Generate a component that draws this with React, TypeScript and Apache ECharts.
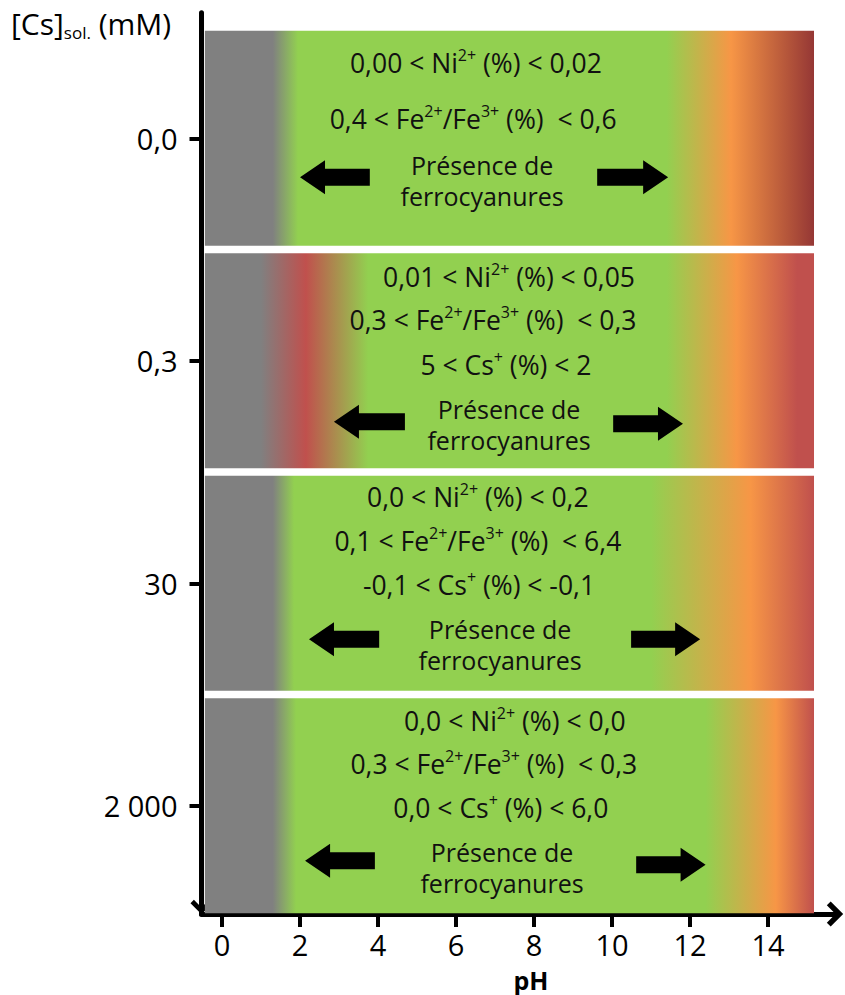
import React, { useEffect, useRef } from "react";
import * as echarts from "echarts";

// ---------- data ----------
const rowLabels = ["0,0", "0,3", "30", "2 000"];
const rowValues = [0, 1, 2, 3];
const xTickValues = [0, 2, 4, 6, 8, 10, 12, 14];
const niRanges = [["0,00", "0,02"], ["0,01", "0,05"], ["0,0", "0,2"], ["0,0", "0,0"]];
const feRanges = [["0,4", "0,6"], ["0,3", "0,3"], ["0,1", "6,4"], ["0,3", "0,3"]];
const csRanges: (string[] | null)[] = [null, ["5", "2"], ["-0,1", "-0,1"], ["0,0", "6,0"]];
const presenceText = "Présence de\nferrocyanures";
const xTitle = "pH";

// colour zones along pH for each row: [pH, colour]
const GRAY = "#808080", GREEN = "#92d050", ORANGE = "#f79646", RED = "#c0504d", DARKRED = "#953735";
const zoneStops: [number, string][][] = [
  [[1.3, GRAY], [1.95, GREEN], [11.4, GREEN], [13.05, ORANGE], [15.18, DARKRED]],
  [[1.0, GRAY], [2.15, RED], [3.75, GREEN], [11.4, GREEN], [13.2, ORANGE], [14.75, RED]],
  [[1.3, GRAY], [1.85, GREEN], [11.0, GREEN], [13.55, ORANGE], [15.18, RED]],
  [[1.3, GRAY], [1.9, GREEN], [12.4, GREEN], [14.2, ORANGE], [15.18, RED]],
];
const bandStartPH = -0.44;
const bandEndPH = 15.18;
// arrows [tail pH, tip pH]
const leftArrows = [[3.79, 2.0], [4.69, 2.87], [4.03, 2.23], [3.92, 2.13]];
const rightArrows = [[9.62, 11.44], [10.03, 11.82], [10.49, 12.26], [10.62, 12.4]];

// ---------- layout (pixel offsets from row centre, text centres in pH) ----------
const textX = [
  { ni: 6.51, fe: 6.44, cs: 0, pres: 6.67 },
  { ni: 7.36, fe: 6.95, cs: 7.28, pres: 7.36 },
  { ni: 6.56, fe: 6.56, cs: 6.59, pres: 7.13 },
  { ni: 7.51, fe: 6.97, cs: 7.15, pres: 7.18 },
];
const textDY = [
  { ni: -75, fe: -19, cs: 0, pres: 42, la: 39, ra: 39 },
  { ni: -84, fe: -41, cs: 4, pres: 64, la: 61, ra: 63 },
  { ni: -86, fe: -42, cs: 2, pres: 61, la: 56, ra: 56 },
  { ni: -85, fe: -42, cs: 2, pres: 62, la: 55, ra: 59 },
];
const BAND_HEIGHT = 0.966; // in row units

const FONT = "'Open Sans', 'Noto Sans', sans-serif";
const CHEVRON = "path://M13,0 L26,13 L22,17 L13,8 L4,17 L0,13 Z";

const supRich = {
  s: { fontSize: 16, lineHeight: 21, verticalAlign: "top", fill: "#111", fontFamily: FONT },
};

function renderRow(params: any, api: any) {
  const r = api.value(0) as number;
  const p0 = api.coord([bandStartPH, r]);
  const p1 = api.coord([bandEndPH, r]);
  const h = api.size([0, BAND_HEIGHT])[1];
  const cy = p0[1];
  const span = bandEndPH - bandStartPH;
  const stops = zoneStops[r].map(([ph, c]) => ({ offset: (ph - bandStartPH) / span, color: c }));
  const children: any[] = [
    {
      type: "rect",
      shape: { x: p0[0], y: cy - h / 2, width: p1[0] - p0[0], height: h },
      style: { fill: new echarts.graphic.LinearGradient(0, 0, 1, 0, stops) },
    },
  ];
  const arrow = (tail: number, tip: number, dy: number) => {
    const t = api.coord([tail, r])[0];
    const p = api.coord([tip, r])[0];
    const y = cy + dy;
    const d = p > t ? 1 : -1;
    const hl = 25, hh = 17, sh = 8.5;
    return {
      type: "polygon",
      shape: {
        points: [
          [t, y - sh], [p - d * hl, y - sh], [p - d * hl, y - hh], [p, y],
          [p - d * hl, y + hh], [p - d * hl, y + sh], [t, y + sh],
        ],
      },
      style: { fill: "#000" },
    };
  };
  children.push(arrow(leftArrows[r][0], leftArrows[r][1], textDY[r].la));
  children.push(arrow(rightArrows[r][0], rightArrows[r][1], textDY[r].ra));

  const line = (txt: string, ph: number, dy: number, size: number, lh: number) => ({
    type: "text",
    style: {
      text: txt,
      x: api.coord([ph, r])[0],
      y: cy + dy,
      align: "center",
      verticalAlign: "middle",
      fontSize: size,
      fontFamily: FONT,
      lineHeight: lh,
      fill: "#111",
      rich: supRich,
    },
  });
  const ni = niRanges[r];
  const fe = feRanges[r];
  const cs = csRanges[r];
  children.push(line(`${ni[0]} < Ni{s|2+} (%) < ${ni[1]}`, textX[r].ni, textDY[r].ni, 26.5, 32));
  children.push(line(`${fe[0]} < Fe{s|2+}/Fe{s|3+} (%)  < ${fe[1]}`, textX[r].fe, textDY[r].fe, 26.5, 32));
  if (cs) children.push(line(`${cs[0]} < Cs{s|+} (%) < ${cs[1]}`, textX[r].cs, textDY[r].cs, 26.5, 32));
  children.push(line(presenceText, textX[r].pres, textDY[r].pres, 25, 31));
  return { type: "group", children };
}

export default function App() {
  const ref = useRef<HTMLDivElement>(null);
  useEffect(() => {
    if (!ref.current) return;
    const chart = echarts.init(ref.current, undefined, { renderer: "svg" });
    chart.setOption({
      animation: false,
      backgroundColor: "#ffffff",
      grid: { left: 201.5, top: 12.7, width: 634.5, height: 901.3, outerBoundsMode: "none" },
      xAxis: {
        type: "value",
        min: -0.526,
        max: 15.744,
        axisLine: {
          show: true, onZero: false,
          lineStyle: { color: "#000", width: 5 },
          symbol: ["none", CHEVRON], symbolSize: [25, 17], symbolOffset: [0, -1],
        },
        axisTick: { show: true, length: 13, lineStyle: { color: "#000", width: 4 }, customValues: xTickValues },
        axisLabel: { customValues: xTickValues, fontSize: 29, lineHeight: 29, color: "#000", fontFamily: FONT, margin: 16 },
        splitLine: { show: false },
      },
      yAxis: {
        type: "value",
        inverse: true,
        min: -0.5643,
        max: 3.4865,
        axisLine: {
          show: true, onZero: false,
          lineStyle: { color: "#000", width: 5 },
          symbol: [CHEVRON, "none"], symbolSize: [22, 17], symbolOffset: [7, 0],
        },
        axisTick: { show: true, length: 12, lineStyle: { color: "#000", width: 4 }, customValues: rowValues },
        axisLabel: {
          customValues: rowValues,
          formatter: (v: number) => rowLabels[Math.round(v)],
          fontSize: 29, color: "#000", fontFamily: FONT, margin: 24,
        },
        splitLine: { show: false },
      },
      graphic: [
        {
          type: "text",
          left: 11,
          top: 8,
          style: {
            text: "{a|[Cs]}{b|sol.}{a| (mM)}",
            rich: {
              a: { fontSize: 30, lineHeight: 36, fontFamily: FONT, fill: "#000" },
              b: { fontSize: 17, lineHeight: 10, verticalAlign: "bottom", fontFamily: FONT, fill: "#000" },
            },
          },
        },
        {
          type: "text",
          x: 531,
          y: 967,
          style: {
            text: xTitle,
            align: "center",
            verticalAlign: "top",
            fontSize: 25,
            lineHeight: 25,
            fontWeight: "bold",
            fontFamily: FONT,
            fill: "#000",
          },
        },
      ],
      series: [
        {
          type: "custom",
          coordinateSystem: "cartesian2d",
          data: rowValues.map((v) => [v]),
          encode: { y: 0 },
          renderItem: renderRow,
          clip: false,
          silent: true,
        },
      ],
    });
    return () => chart.dispose();
  }, []);
  return <div ref={ref} style={{ position: "absolute", left: 0, top: 0, width: 845, height: 995 }} />;
}
